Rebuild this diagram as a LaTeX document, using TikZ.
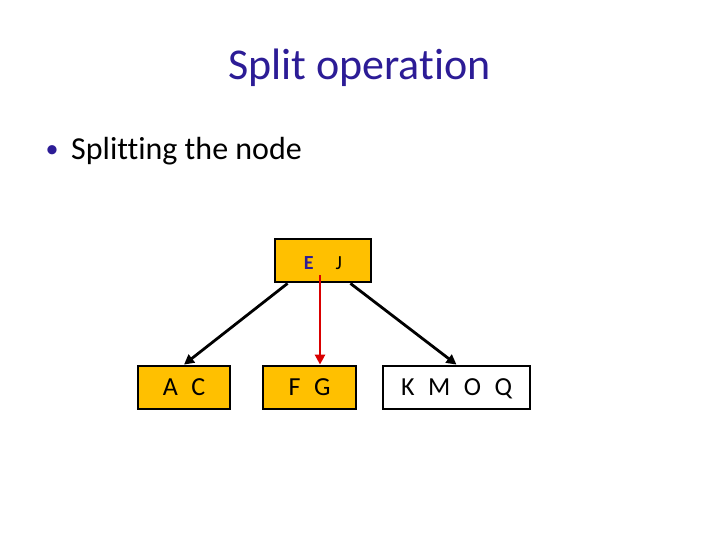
\documentclass[tikz,border=0pt]{standalone}
\usepackage{fontspec}
\setmainfont[Ligatures=NoCommon]{Carlito}
\usepackage{tikz}
\usetikzlibrary{positioning, arrows.meta, calc}
\definecolor{titleblue}{RGB}{44,28,150}
\definecolor{keyorange}{RGB}{255,192,0}
\newcommand{\kgap}{\hspace{0.52em}}

\begin{document}
\begin{tikzpicture}[x=1pt, y=-1pt,
        keybox/.style={draw=black, line width=2.8pt, minimum height=43pt, inner sep=0pt, text height=16.7pt, text depth=0pt, font=\fontsize{26}{30}\selectfont},
        child/.style={-{Triangle[length=10pt, width=10pt]}, line width=2.8pt}]
        \useasboundingbox (0,0) rectangle (720,540);
        % Title and bullet
        \node (title) [anchor=base, inner sep=0pt, text=titleblue, font=\fontsize{44}{52}\selectfont] at (359.5,80) {Split operation};
        \node (bullet) [anchor=base, inner sep=0pt, text=titleblue, font=\fontsize{26}{30}\selectfont] at (52,158) {\textbullet};
        \node (point) [anchor=base west, inner sep=0pt, font=\fontsize{32}{38}\selectfont] at (71,160) {Splitting the node};
        % Parent and children
        \node (EJ) [keybox, fill=keyorange, minimum width=96pt, text height=17.5pt, font=\fontsize{20}{24}\selectfont] at (323,260.5) {\textcolor{titleblue}{\textbf{E}}\hspace{22pt}J};
        \node (AC) [keybox, fill=keyorange, minimum width=92pt] at (184,387.5) {A\kgap C};
        \node (FG) [keybox, fill=keyorange, minimum width=93pt] at (309.5,387.5) {F\kgap G};
        \node (KMOQ) [keybox, fill=white, minimum width=147pt] at (456.5,387.5) {K\kgap M\kgap O\kgap Q};
        % Pointers
        \coordinate (split) at (320,275);
        \draw[child] ($(EJ.south west)+(14,0)$) -- (AC.north);
        \draw[child] ($(EJ.south east)+(-22,0)$) -- (KMOQ.north);
        \draw[child, red!85!black] (split) -- (split |- FG.north);
    \end{tikzpicture}
\end{document}
